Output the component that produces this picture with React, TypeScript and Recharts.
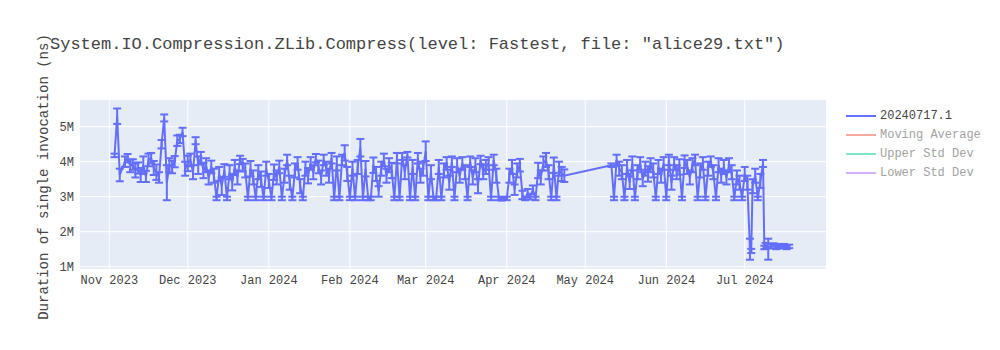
import { CartesianGrid, ComposedChart, ErrorBar, Line, XAxis, YAxis } from "recharts";

const FONT = "'Courier New', 'Liberation Mono', monospace";
const BLUE = "#636efa";

// run dates (one run per day, two on the days the timings dropped)
const runDates: string[] = [
  "2023-11-03", "2023-11-04", "2023-11-05", "2023-11-07", "2023-11-08", "2023-11-09", "2023-11-10", "2023-11-11", "2023-11-12", "2023-11-13", "2023-11-14", "2023-11-15", "2023-11-16", "2023-11-17", "2023-11-18", "2023-11-19", "2023-11-20", "2023-11-21", "2023-11-22", "2023-11-23", "2023-11-24", "2023-11-25", "2023-11-26", "2023-11-27", "2023-11-28", "2023-11-29", "2023-11-30",
  "2023-12-01", "2023-12-02", "2023-12-03", "2023-12-04", "2023-12-05", "2023-12-06", "2023-12-07", "2023-12-08", "2023-12-09", "2023-12-10", "2023-12-11", "2023-12-12", "2023-12-13", "2023-12-14", "2023-12-15", "2023-12-16", "2023-12-17", "2023-12-18", "2023-12-19", "2023-12-20", "2023-12-21", "2023-12-22", "2023-12-23", "2023-12-24", "2023-12-25", "2023-12-26", "2023-12-27", "2023-12-28", "2023-12-29", "2023-12-30", "2023-12-31",
  "2024-01-01", "2024-01-02", "2024-01-03", "2024-01-04", "2024-01-05", "2024-01-06", "2024-01-07", "2024-01-08", "2024-01-09", "2024-01-10", "2024-01-11", "2024-01-12", "2024-01-13", "2024-01-14", "2024-01-15", "2024-01-16", "2024-01-17", "2024-01-18", "2024-01-19", "2024-01-20", "2024-01-21", "2024-01-22", "2024-01-23", "2024-01-24", "2024-01-25", "2024-01-26", "2024-01-27", "2024-01-28", "2024-01-29", "2024-01-30", "2024-01-31",
  "2024-02-01", "2024-02-02", "2024-02-03", "2024-02-04", "2024-02-05", "2024-02-06", "2024-02-07", "2024-02-08", "2024-02-09", "2024-02-10", "2024-02-11", "2024-02-12", "2024-02-13", "2024-02-14", "2024-02-15", "2024-02-16", "2024-02-17", "2024-02-18", "2024-02-19", "2024-02-20", "2024-02-21", "2024-02-22", "2024-02-23", "2024-02-24", "2024-02-25", "2024-02-26", "2024-02-27", "2024-02-28", "2024-02-29",
  "2024-03-01", "2024-03-02", "2024-03-03", "2024-03-04", "2024-03-05", "2024-03-06", "2024-03-07", "2024-03-08", "2024-03-09", "2024-03-10", "2024-03-11", "2024-03-12", "2024-03-13", "2024-03-14", "2024-03-15", "2024-03-16", "2024-03-17", "2024-03-18", "2024-03-19", "2024-03-20", "2024-03-21", "2024-03-22", "2024-03-23", "2024-03-24", "2024-03-25", "2024-03-26", "2024-03-27", "2024-03-28", "2024-03-29", "2024-03-30", "2024-03-31",
  "2024-04-01", "2024-04-02", "2024-04-03", "2024-04-04", "2024-04-05", "2024-04-06", "2024-04-07", "2024-04-08", "2024-04-09", "2024-04-10", "2024-04-11", "2024-04-12", "2024-04-13", "2024-04-14", "2024-04-15", "2024-04-16", "2024-04-17", "2024-04-18", "2024-04-19", "2024-04-20", "2024-04-21", "2024-04-22", "2024-04-23",
  "2024-05-11", "2024-05-12", "2024-05-13", "2024-05-14", "2024-05-15", "2024-05-16", "2024-05-17", "2024-05-18", "2024-05-19", "2024-05-20", "2024-05-21", "2024-05-22", "2024-05-23", "2024-05-24", "2024-05-25", "2024-05-26", "2024-05-27", "2024-05-28", "2024-05-29", "2024-05-30", "2024-05-31",
  "2024-06-01", "2024-06-02", "2024-06-03", "2024-06-04", "2024-06-05", "2024-06-06", "2024-06-07", "2024-06-08", "2024-06-09", "2024-06-10", "2024-06-11", "2024-06-12", "2024-06-13", "2024-06-14", "2024-06-15", "2024-06-16", "2024-06-17", "2024-06-18", "2024-06-19", "2024-06-20", "2024-06-21", "2024-06-22", "2024-06-23", "2024-06-24", "2024-06-25", "2024-06-26", "2024-06-27", "2024-06-28", "2024-06-29", "2024-06-30",
  "2024-07-01", "2024-07-02", "2024-07-03", "2024-07-03T12:00", "2024-07-04", "2024-07-05", "2024-07-06", "2024-07-07", "2024-07-08", "2024-07-08T12:00", "2024-07-09", "2024-07-10", "2024-07-11", "2024-07-12", "2024-07-13", "2024-07-14", "2024-07-15", "2024-07-16", "2024-07-17", "2024-07-18",
];

// mean duration per run, in millions of ns
const durationsM: number[] = [
  4.18, 5.3, 3.62, 4.0, 4.1, 3.88, 3.92, 3.75, 3.82, 3.62, 3.9, 3.58, 4.05, 4.1, 3.82, 3.7, 3.55, 4.5, 5.25, 3.4, 3.9, 3.85, 4.0, 4.6, 4.65, 4.85, 3.8,
  3.95, 4.05, 3.7, 4.6, 3.9, 4.1, 3.75, 3.9, 3.55, 3.85, 3.6, 2.95, 3.65, 3.3, 3.75, 2.95, 3.7, 3.4, 3.85, 3.55, 4.05, 3.9, 3.75, 2.95, 3.8, 3.55, 2.95, 3.7, 3.5, 2.95, 3.8,
  3.45, 2.95, 3.7, 3.55, 3.85, 2.95, 3.6, 4.05, 3.4, 2.95, 3.75, 3.95, 3.3, 2.95, 3.8, 3.6, 3.95, 3.7, 4.1, 3.85, 3.55, 4.05, 3.8, 3.6, 4.1, 2.95, 3.95, 2.95, 4.05, 4.25, 3.65,
  2.95, 3.8, 2.95, 3.85, 4.4, 2.95, 3.8, 2.95, 2.95, 3.9, 3.65, 3.15, 3.8, 4.05, 3.6, 3.9, 3.75, 2.95, 4.1, 2.95, 4.15, 3.7, 4.2, 2.95, 3.85, 2.95, 4.1, 3.6, 3.8,
  4.3, 2.95, 3.7, 2.95, 2.95, 3.85, 2.95, 3.75, 3.95, 3.4, 4.0, 2.95, 3.9, 3.6, 3.95, 3.7, 2.95, 4.0, 3.55, 3.9, 3.3, 4.05, 3.7, 3.85, 3.95, 2.95, 4.05, 3.6, 2.95, 2.92, 2.95,
  2.95, 3.6, 3.85, 3.2, 3.75, 3.9, 3.05, 2.95, 3.1, 3.0, 3.2, 2.95, 3.75, 3.55, 3.95, 4.05, 3.7, 2.95, 3.9, 2.95, 3.8, 3.65, 3.6,
  3.9, 2.95, 4.05, 3.8, 3.7, 2.95, 3.85, 3.4, 3.95, 2.95, 3.7, 3.95, 3.5, 3.8, 3.65, 3.9, 3.75, 2.95, 3.85, 3.6, 3.95,
  2.95, 4.05, 3.4, 3.95, 3.7, 3.85, 2.95, 4.0, 3.85, 3.55, 3.9, 4.05, 2.95, 3.75, 3.95, 2.95, 3.8, 4.0, 3.7, 2.95, 3.9, 3.6, 3.85, 3.55, 3.9, 3.7, 2.95, 3.55, 3.4, 2.95,
  3.65, 3.4, 1.5, 1.45, 3.3, 3.6, 2.95, 3.45, 3.95, 1.55, 1.6, 1.5, 1.58, 1.62, 1.55, 1.6, 1.57, 1.6, 1.55, 1.58,
];

// standard deviation per run, in millions of ns
const stdDevM: number[] = [
  0.05, 0.22, 0.18, 0.15, 0.12, 0.18, 0.15, 0.2, 0.16, 0.2, 0.25, 0.16, 0.18, 0.15, 0.2, 0.22, 0.15, 0.12, 0.1, 0.5, 0.2, 0.18, 0.16, 0.15, 0.12, 0.12, 0.2,
  0.22, 0.18, 0.2, 0.1, 0.25, 0.18, 0.22, 0.2, 0.2, 0.18, 0.2, 0.05, 0.2, 0.25, 0.18, 0.05, 0.2, 0.22, 0.2, 0.2, 0.12, 0.18, 0.2, 0.05, 0.22, 0.2, 0.05, 0.2, 0.22, 0.05, 0.2,
  0.2, 0.05, 0.22, 0.2, 0.18, 0.05, 0.2, 0.15, 0.2, 0.05, 0.2, 0.18, 0.2, 0.05, 0.2, 0.22, 0.18, 0.2, 0.12, 0.18, 0.2, 0.15, 0.2, 0.2, 0.15, 0.05, 0.2, 0.05, 0.15, 0.22, 0.2,
  0.05, 0.2, 0.05, 0.2, 0.25, 0.05, 0.22, 0.05, 0.05, 0.22, 0.2, 0.15, 0.2, 0.18, 0.2, 0.2, 0.22, 0.05, 0.15, 0.05, 0.1, 0.2, 0.08, 0.05, 0.2, 0.05, 0.15, 0.2, 0.2,
  0.28, 0.05, 0.2, 0.05, 0.05, 0.2, 0.05, 0.2, 0.18, 0.2, 0.15, 0.05, 0.2, 0.2, 0.18, 0.2, 0.05, 0.15, 0.2, 0.2, 0.2, 0.12, 0.2, 0.2, 0.18, 0.05, 0.15, 0.2, 0.05, 0.03, 0.03,
  0.05, 0.2, 0.2, 0.15, 0.2, 0.18, 0.12, 0.05, 0.12, 0.08, 0.12, 0.05, 0.22, 0.2, 0.2, 0.2, 0.2, 0.05, 0.22, 0.05, 0.2, 0.2, 0.18,
  0.05, 0.05, 0.15, 0.2, 0.2, 0.05, 0.2, 0.18, 0.2, 0.05, 0.2, 0.18, 0.2, 0.2, 0.22, 0.2, 0.2, 0.05, 0.2, 0.2, 0.18,
  0.05, 0.15, 0.2, 0.18, 0.2, 0.22, 0.05, 0.18, 0.2, 0.2, 0.2, 0.15, 0.05, 0.2, 0.18, 0.05, 0.2, 0.15, 0.2, 0.05, 0.2, 0.2, 0.2, 0.2, 0.2, 0.2, 0.05, 0.2, 0.2, 0.05,
  0.2, 0.2, 0.3, 0.06, 0.2, 0.2, 0.05, 0.2, 0.1, 0.05, 0.08, 0.3, 0.06, 0.05, 0.05, 0.05, 0.05, 0.05, 0.05, 0.05,
];

const monthTicks: string[] = [
  "2023-11-01", "2023-12-01", "2024-01-01", "2024-02-01", "2024-03-01",
  "2024-04-01", "2024-05-01", "2024-06-01", "2024-07-01",
];
const monthNames = ["Jan", "Feb", "Mar", "Apr", "May", "Jun", "Jul", "Aug", "Sep", "Oct", "Nov", "Dec"];
const yTicks: number[] = [1e6, 2e6, 3e6, 4e6, 5e6];

const legendItems = [
  { name: "20240717.1", color: BLUE, visible: true },
  { name: "Moving Average", color: "#f7aa9d", visible: false },
  { name: "Upper Std Dev", color: "#80e6cb", visible: false },
  { name: "Lower Std Dev", color: "#d5b1fc", visible: false },
];

const toTime = (d: string) => Date.parse(d.includes("T") ? d + "Z" : d + "T00:00:00Z");

const data = runDates.map((d, i) => ({
  t: toTime(d),
  value: durationsM[i] * 1e6,
  err: stdDevM[i] * 1e6,
}));

const xDomain = [Date.UTC(2023, 9, 20, 19), Date.UTC(2024, 7, 1, 2)];

function formatMonth(t: number) {
  const d = new Date(t);
  return `${monthNames[d.getUTCMonth()]} ${d.getUTCFullYear()}`;
}

export default function App() {
  return (
    <div style={{ position: "absolute", left: 0, top: 0, width: 1000, height: 350, background: "#fff", fontFamily: FONT }}>
      <div style={{ position: "absolute", left: 50, top: 35, fontSize: 17, color: "#444", whiteSpace: "pre" }}>
        System.IO.Compression.ZLib.Compress(level: Fastest, file: "alice29.txt")
      </div>
      <div
        style={{
          position: "absolute",
          left: 44,
          top: 177,
          transform: "translate(-50%, -50%) rotate(-90deg)",
          fontSize: 14,
          color: "#444",
          whiteSpace: "pre",
        }}
      >
        Duration of single invocation (ns)
      </div>

      <ComposedChart
        width={1000}
        height={350}
        data={data}
        margin={{ top: 100, right: 174, bottom: 51, left: 0 }}
        style={{ position: "absolute", left: 0, top: 0 }}
      >
        <CartesianGrid fill="#e5ecf6" stroke="#fff" strokeWidth={1} horizontalValues={yTicks} verticalValues={monthTicks.map(toTime)} />
        <XAxis
          dataKey="t"
          type="number"
          domain={xDomain}
          allowDataOverflow
          ticks={monthTicks.map(toTime)}
          tickFormatter={formatMonth}
          axisLine={false}
          tickLine={false}
          tickSize={0}
          tickMargin={6}
          height={30}
          tick={{ fill: "#444", fontSize: 12, fontFamily: FONT }}
        />
        <YAxis
          type="number"
          domain={[0.934e6, 5.763e6]}
          allowDataOverflow
          ticks={yTicks}
          tickFormatter={(v: number) => `${v / 1e6}M`}
          axisLine={false}
          tickLine={false}
          tickSize={0}
          tickMargin={6}
          width={80}
          tick={{ fill: "#444", fontSize: 12, fontFamily: FONT }}
        />
        <Line
          dataKey="value"
          stroke={BLUE}
          strokeWidth={2}
          dot={false}
          isAnimationActive={false}
        >
          <ErrorBar dataKey="err" direction="y" width={4} stroke={BLUE} strokeWidth={2} isAnimationActive={false} />
        </Line>
      </ComposedChart>

      <div style={{ position: "absolute", left: 846, top: 106 }}>
        {legendItems.map((item) => (
          <div key={item.name} style={{ display: "flex", alignItems: "center", height: 19 }}>
            <div style={{ width: 30, height: 2, background: item.color, marginRight: 4 }} />
            <span style={{ fontSize: 12, color: item.visible ? "#444" : "#a2a2a2", whiteSpace: "pre" }}>{item.name}</span>
          </div>
        ))}
      </div>
    </div>
  );
}
